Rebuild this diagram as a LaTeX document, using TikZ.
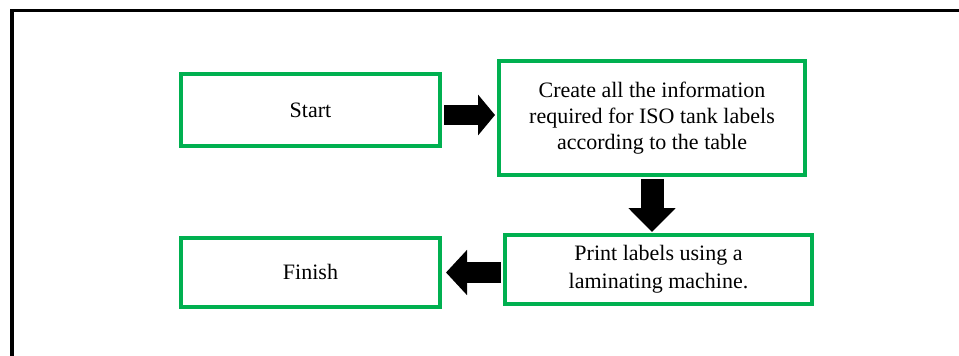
\documentclass[tikz,border=0pt]{standalone}
\usepackage{fontspec}
\setmainfont{Liberation Serif}
\usetikzlibrary{arrows.meta}
\definecolor{boxgreen}{HTML}{00B050}
\begin{document}
\begin{tikzpicture}[x=1pt,y=-1pt,
  stepbox/.style={draw=boxgreen, line width=4pt, align=center, inner sep=0pt,
    font=\fontsize{22}{25.7}\selectfont},
  blockarrow/.style={draw=black, line cap=butt}]
\clip (0,0) rectangle (959,356);
\fill[white] (0,0) rectangle (959,356);
% outer frame, running past the right and bottom edges
\draw[line width=3.5pt] (12,10.5) rectangle (990,400);

% process steps
\node[stepbox, minimum width=259pt, minimum height=72pt] (start) at (310.5,110) {Start};
\node[stepbox, minimum width=306pt, minimum height=114pt] (create) at (652,118)
  {Create all the information\\required for ISO tank labels\\according to the table};
\node[stepbox, minimum width=307pt, minimum height=69pt,
  font=\fontsize{22}{28.4}\selectfont] (print) at (658.5,269.5)
  {Print labels using a\\laminating machine.};
\node[stepbox, minimum width=259pt, minimum height=69pt] (finish) at (310.5,272) {Finish};

% heights of the horizontal block arrows
\coordinate (rA) at (0,115);
\coordinate (lA) at (0,272.5);

% block arrows between the steps
\draw[blockarrow, line width=20pt, -{Triangle[length=17pt,width=40pt]},
  shorten <=2pt, shorten >=2pt] (start.east |- rA) -- (create.west |- rA);
\draw[blockarrow, line width=23pt, -{Triangle[length=24pt,width=46pt]},
  shorten <=2pt, shorten >=1pt] (create.south) -- (create.south |- print.north);
\draw[blockarrow, line width=21pt, -{Triangle[length=21pt,width=44pt]},
  shorten <=2pt, shorten >=4pt] (print.west |- lA) -- (finish.east |- lA);
\end{tikzpicture}
\end{document}
